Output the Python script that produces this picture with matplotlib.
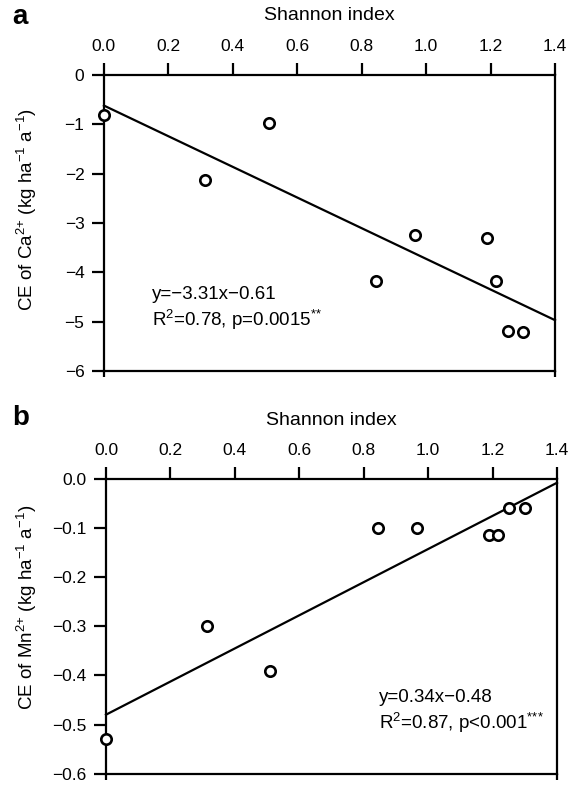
import matplotlib
matplotlib.use("Agg")
import matplotlib.pyplot as plt
from matplotlib.ticker import FuncFormatter

plt.rcParams['font.family'] = ['Liberation Sans', 'DejaVu Sans']
plt.rcParams['mathtext.fontset'] = 'custom'
plt.rcParams['mathtext.rm'] = 'Liberation Sans'
plt.rcParams['mathtext.it'] = 'Liberation Sans:italic'
plt.rcParams['mathtext.default'] = 'regular'

# Shannon index for the sites
shannon_a = [0.0, 0.315, 0.511, 0.845, 0.966, 1.19, 1.217, 1.253, 1.302]
shannon_b = [0.0, 0.313, 0.51, 0.844, 0.965, 1.189, 1.218, 1.251, 1.302]

# panel a: CE of Ca2+
ce_ca = [-0.82, -2.12, -0.98, -4.17, -3.24, -3.31, -4.17, -5.19, -5.21]
fit_a_x = [0.0, 1.4]
fit_a_y = [-0.62, -4.97]

# panel b: CE of Mn2+
ce_mn = [-0.53, -0.30, -0.39, -0.10, -0.099, -0.113, -0.113, -0.058, -0.059]
fit_b_x = [0.0, 1.4]
fit_b_y = [-0.48, -0.007]

xticks = [0.0, 0.2, 0.4, 0.6, 0.8, 1.0, 1.2, 1.4]
yticks_a = [0, -1, -2, -3, -4, -5, -6]
yticks_b = [0.0, -0.1, -0.2, -0.3, -0.4, -0.5, -0.6]

fig = plt.figure(figsize=(5.71, 7.85), dpi=100)
ax_a = fig.add_axes([0.182, 0.5274, 0.790, 0.3771])
ax_b = fig.add_axes([0.1856, 0.0146, 0.7899, 0.3748])


def style_axes(ax, yticks, ylabel, ylab_x, ylab_y):
    ax.set_xlim(0, 1.4)
    ax.set_ylim(min(yticks), max(yticks))
    for s in ax.spines.values():
        s.set_linewidth(1.6)
    ax.xaxis.tick_top()
    ax.set_xticks(xticks)
    ax.set_xticklabels([f"{t:.1f}" for t in xticks])
    ax.set_yticks(yticks)
    ax.tick_params(axis='both', direction='out', length=8.5, width=1.6,
                   labelsize=12.5)
    ax.tick_params(axis='x', top=True, bottom=False, pad=6.5)
    ax.tick_params(axis='y', pad=5.5)
    # short overshoot of the vertical lines below the frame
    sec = ax.secondary_xaxis('bottom')
    sec.set_xticks([0.0, 1.4])
    sec.set_xticklabels(['', ''])
    sec.tick_params(direction='out', length=4, width=1.6)
    sec.spines['bottom'].set_visible(False)
    ax.text(0.5, 1.2, 'Shannon index', transform=ax.transAxes,
            fontsize=14, ha='center', va='center')
    ax.set_ylabel(ylabel, fontsize=13.5, va='center')
    ax.yaxis.set_label_coords(ylab_x, ylab_y)


ax_a.plot(fit_a_x, fit_a_y, color='black', lw=1.6, clip_on=False)
ax_a.plot(shannon_a, ce_ca, 'o', mfc='white', mec='black', ms=7.5, mew=1.9,
          clip_on=False, zorder=3)
style_axes(ax_a, yticks_a, 'CE of Ca$^{2{+}}$ (kg ha$^{{-}1}$ a$^{{-}1}$)',
           -0.17, 0.545)
ax_a.yaxis.set_major_formatter(FuncFormatter(
    lambda v, p: f"{int(v)}".replace('-', '\u2212')))
ax_a.text(0.148, -4.45, 'y=\u22123.31x\u22120.61', fontsize=13.5, va='center')
ax_a.text(0.148, -4.97, 'R$^2$=0.78, p=0.0015$^{{*}{*}}$', fontsize=13.5,
          va='center')

ax_b.plot(fit_b_x, fit_b_y, color='black', lw=1.6, clip_on=False)
ax_b.plot(shannon_b, ce_mn, 'o', mfc='white', mec='black', ms=7.5, mew=1.9,
          clip_on=False, zorder=3)
style_axes(ax_b, yticks_b, 'CE of Mn$^{2{+}}$ (kg ha$^{{-}1}$ a$^{{-}1}$)',
           -0.175, 0.565)
ax_b.yaxis.set_major_formatter(FuncFormatter(
    lambda v, p: f"{v:.1f}".replace('-', '\u2212')))
ax_b.text(0.848, -0.445, 'y=0.34x\u22120.48', fontsize=13.5, va='center')
ax_b.text(0.848, -0.496, 'R$^2$=0.87, p<0.001$^{{*}{*}{*}}$', fontsize=13.5,
          va='center')

fig.text(12 / 571, 1 - 24 / 785, 'a', fontsize=20, fontweight='bold',
         va='baseline')
fig.text(12 / 571, 1 - 425 / 785, 'b', fontsize=20, fontweight='bold',
         va='baseline')

fig.savefig('out.png', dpi=100)
